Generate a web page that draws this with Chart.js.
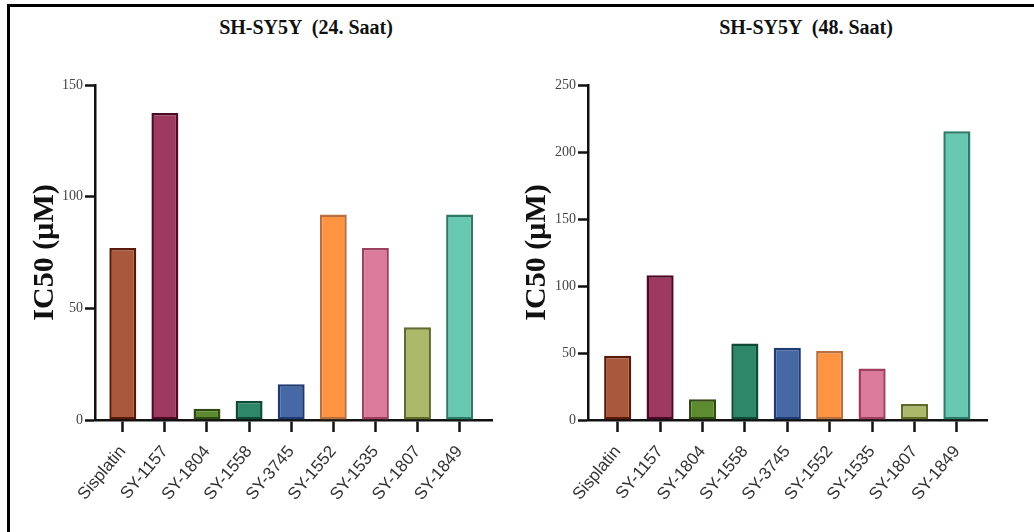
<!DOCTYPE html>
<html>
<head>
<meta charset="utf-8">
<script src="https://cdn.jsdelivr.net/npm/chart.js@4.4.0/dist/chart.umd.min.js"></script>
<style>
  html, body { margin: 0; padding: 0; background: #fff; }
  #page { position: relative; width: 1034px; height: 532px; overflow: hidden; }
  #frame { position: absolute; left: 7px; top: 4px; right: 0; bottom: 0;
           border-top: 3px solid #000; border-left: 3px solid #000; }
  canvas { position: absolute; top: 0; }
  #c24 { left: 0; }
  #c48 { left: 517px; }
  .title { position: absolute; top: 16px; width: 240px; line-height: 24px; text-align: center;
           font: bold 20px "Liberation Serif", serif; color: #111; white-space: pre; }
</style>
</head>
<body>
<div id="page">
  <div id="frame"></div>
  <div class="title" style="left:186px">SH-SY5Y  (24. Saat)</div>
  <div class="title" style="left:686px">SH-SY5Y  (48. Saat)</div>
  <canvas id="c24" width="517" height="532"></canvas>
  <canvas id="c48" width="517" height="532"></canvas>
</div>
<script>
// compounds, in the order they appear on the x axis
const categories = ["Sisplatin", "SY-1157", "SY-1804", "SY-1558", "SY-3745", "SY-1552", "SY-1535", "SY-1807", "SY-1849"];

// IC50 values (µM)
const ic50_24h = [77, 137.5, 5, 8.5, 16, 92, 77, 41.5, 92];
const ic50_48h = [48, 108, 15.5, 57, 54, 51.5, 38.5, 12, 215.5];

// y axis tick labels
const yTicks24 = [0, 50, 100, 150];
const yTicks48 = [0, 50, 100, 150, 200, 250];

const fillColors = ["#a9583b", "#9e3a5f", "#5f8b30", "#2f876a", "#4669a6", "#fe9442", "#db7a9b", "#adb96a", "#68c8b1"];
const edgeColors = ["#5a1a08", "#4c0a26", "#2f4a12", "#0f4a34", "#1f3c70", "#b9703f", "#9c405d", "#5f6b28", "#2d7b67"];

function makeChart(id, values, yTicks, geo) {
  new Chart(document.getElementById(id), {
    type: "bar",
    data: {
      datasets: [{
        data: values.map((v, i) => ({ x: i, y: v })),
        backgroundColor: fillColors,
        borderColor: edgeColors,
        borderWidth: 2.5,
        borderSkipped: false,
        categoryPercentage: 0.8,
        barPercentage: 0.8
      }]
    },
    options: {
      responsive: false,
      animation: false,
      layout: { padding: { top: 85, right: geo.padRight, left: 0, bottom: 0 } },
      plugins: { legend: { display: false }, tooltip: { enabled: false } },
      scales: {
        x: {
          type: "linear",
          offset: false,
          min: geo.xMin,
          max: geo.xMax,
          afterFit: s => { s.height = 112; },
          border: { color: "#111", width: 2.5 },
          grid: { offset: false, drawOnChartArea: false, tickLength: 12, tickColor: "#111", tickWidth: 2.5 },
          ticks: {
            stepSize: 1,
            includeBounds: false,
            autoSkip: false,
            minRotation: 50,
            maxRotation: 50,
            padding: 10,
            color: "#333",
            font: { family: "Liberation Sans", size: 17 },
            callback: v => categories[v]
          }
        },
        y: {
          min: 0,
          max: yTicks[yTicks.length - 1],
          afterFit: s => { s.width = geo.yWidth; },
          afterBuildTicks: s => { s.ticks = yTicks.map(v => ({ value: v })); },
          border: { color: "#111", width: 2.5 },
          grid: { drawOnChartArea: false, tickLength: 10, tickColor: "#111", tickWidth: 2.5 },
          ticks: {
            padding: 2,
            color: "#444",
            font: { family: "Liberation Serif", size: 14 }
          },
          title: {
            display: true,
            text: "IC50 (µM)",
            color: "#111",
            font: { family: "Liberation Serif", size: 30, weight: "bold" },
            padding: { top: geo.titlePad, bottom: 0 }
          }
        }
      }
    }
  });
}

makeChart("c24", ic50_24h, yTicks24, { yWidth: 95, padRight: 25, titlePad: 27, xMin: -0.66, xMax: 8.77 });
makeChart("c48", ic50_48h, yTicks48, { yWidth: 71, padRight: 47, titlePad: 2, xMin: -0.70, xMax: 8.71 });
</script>
</body>
</html>
